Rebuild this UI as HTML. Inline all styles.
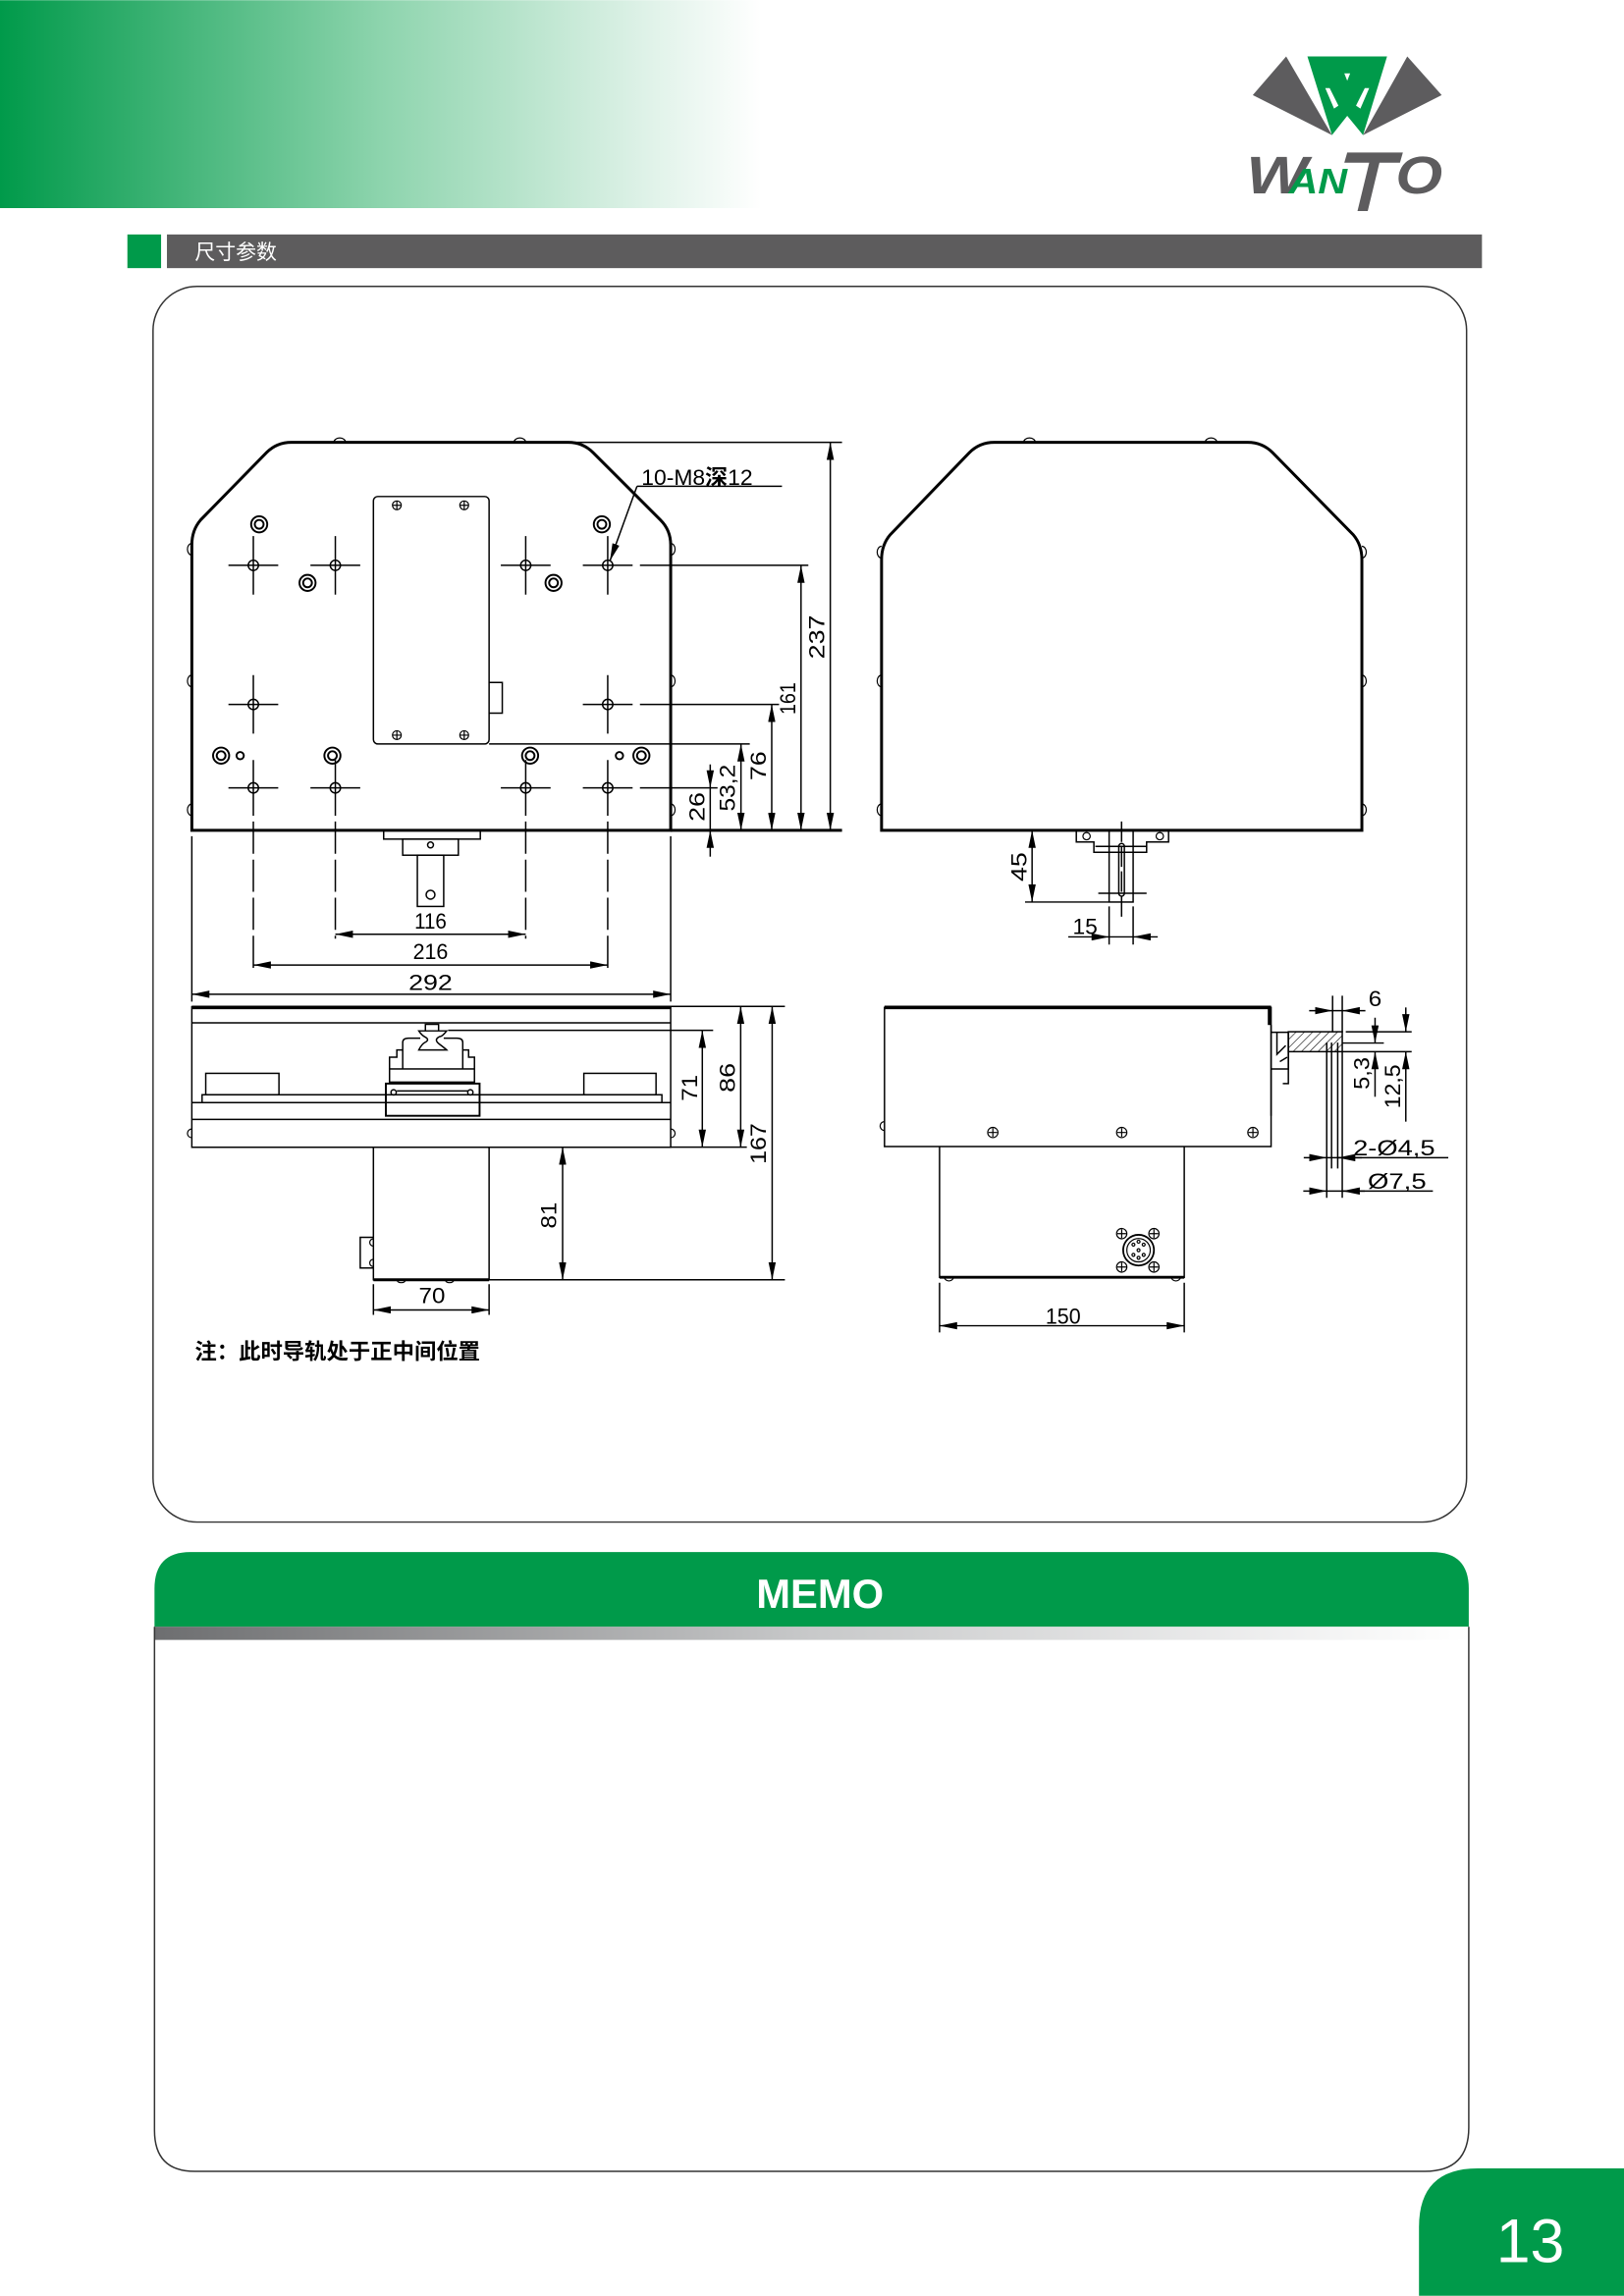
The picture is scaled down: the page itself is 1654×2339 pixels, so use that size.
<!DOCTYPE html>
<html><head><meta charset="utf-8"><style>
html,body{margin:0;padding:0;background:#fff}
svg{display:block}
</style></head><body>
<svg width="1654" height="2339" viewBox="0 0 1109 1568" xmlns="http://www.w3.org/2000/svg">
<defs>
<linearGradient id="hg" x1="0" x2="1" y1="0" y2="0">
<stop offset="0" stop-color="#009a4a"/><stop offset="0.15" stop-color="#2bab68"/><stop offset="0.5" stop-color="#8dd4ad"/><stop offset="0.85" stop-color="#dff2e8"/><stop offset="1" stop-color="#ffffff"/>
</linearGradient>
<linearGradient id="gg" x1="0" x2="1" y1="0" y2="0">
<stop offset="0" stop-color="#6d6e70"/><stop offset="0.5" stop-color="#c8c9ca"/><stop offset="1" stop-color="#ffffff"/>
</linearGradient>
<marker id="ar" viewBox="0 0 12 5" refX="12" refY="2.5" markerWidth="12" markerHeight="5" markerUnits="userSpaceOnUse" orient="auto-start-reverse"><path d="M0,0 L12,2.5 L0,5 z" fill="#000"/></marker>
<pattern id="hatch" width="4" height="4" patternUnits="userSpaceOnUse" patternTransform="rotate(45)"><line x1="0" y1="0" x2="0" y2="4" stroke="#000" stroke-width="0.8"/></pattern>
</defs>

<!-- header -->
<rect x="0" y="0" width="520" height="142" fill="url(#hg)"/>
<!-- logo -->
<polygon points="878.3,38.4 855.5,64.8 909.6,92.1" fill="#5d5c5e"/>
<polygon points="961,38.4 984.5,64.8 930.8,92.1" fill="#5d5c5e"/>
<polygon points="892.8,38.4 947.2,38.4 930.8,92.1 920,79 909.6,92.1" fill="#009a4a"/>
<polygon points="918,50 922,50 920,55" fill="#fff"/>
<polygon points="905,60 908,60 914,72 911,74" fill="#fff"/>
<polygon points="932,60 935,60 929,74 926,72" fill="#fff"/>
<text x="851" y="131.8" font-family="Liberation Sans, sans-serif" font-weight="bold" font-style="italic" font-size="36" fill="#5d5c5e" textLength="42" lengthAdjust="spacingAndGlyphs">W</text>
<text x="880" y="131.8" font-family="Liberation Sans, sans-serif" font-weight="bold" font-style="italic" font-size="24" fill="#009a4a" textLength="40" lengthAdjust="spacingAndGlyphs">AN</text>
<polygon points="920,104 958,104 956,111 942,111 934,144 927,144 935,111 918,111" fill="#5d5c5e"/>
<text x="953" y="131.8" font-family="Liberation Sans, sans-serif" font-weight="bold" font-style="italic" font-size="36" fill="#5d5c5e" textLength="32" lengthAdjust="spacingAndGlyphs">O</text>

<!-- section bar -->
<rect x="87" y="160" width="23" height="23" fill="#009a4a"/>
<rect x="114" y="160" width="898" height="23" fill="#5d5c5d"/>
<text x="133" y="177" font-family="Liberation Sans, 'Noto Sans CJK SC', sans-serif" font-size="14" fill="#fff">尺寸参数</text>

<!-- drawing box -->
<rect x="104.5" y="195.5" width="897" height="844" rx="30" fill="none" stroke="#333" stroke-width="1"/>

<g stroke="#000" fill="none" stroke-width="1">
<!-- FRONT VIEW -->
<path d="M131,567 L131,372 Q131,362 137,355 L182,309 Q189,302 199,302 L388,302 Q398,302 405,309 L451,355 Q458,362 458,372 L458,567 Z" stroke-width="2"/>
<!-- bumps -->
<g stroke-width="0.8">
<path d="M131,371 a3,4 0 0 0 0,8"/><path d="M131,461 a3,4 0 0 0 0,8"/><path d="M131,549 a3,4 0 0 0 0,8"/>
<path d="M458,371 a3,4 0 0 1 0,8"/><path d="M458,461 a3,4 0 0 1 0,8"/><path d="M458,549 a3,4 0 0 1 0,8"/>
<path d="M228,302 a4,3 0 0 1 8,0"/><path d="M351,302 a4,3 0 0 1 8,0"/>
</g>
<!-- holes -->
<g>
<circle cx="173" cy="386" r="3.5"/><path d="M156,386H190M173,366V406"/>
<circle cx="229" cy="386" r="3.5"/><path d="M212,386H246M229,366V406"/>
<circle cx="359" cy="386" r="3.5"/><path d="M342,386H376M359,366V406"/>
<circle cx="415" cy="386" r="3.5"/><path d="M398,386H432M415,366V406"/>
<circle cx="173" cy="481" r="3.5"/><path d="M156,481H190M173,461V501"/>
<circle cx="415" cy="481" r="3.5"/><path d="M398,481H432M415,461V501"/>
<circle cx="173" cy="538" r="3.5"/><path d="M156,538H190M173,519V557"/>
<circle cx="229" cy="538" r="3.5"/><path d="M212,538H246M229,519V557"/>
<circle cx="359" cy="538" r="3.5"/><path d="M342,538H376M359,519V557"/>
<circle cx="415" cy="538" r="3.5"/><path d="M398,538H432M415,519V557"/>
</g>
<path d="M173,561V662M415,561V662M229,561V641M359,561V641" stroke-dasharray="22 4"/>
<!-- double circles -->
<g stroke-width="1.3">
<circle cx="177" cy="358" r="5.5"/><circle cx="177" cy="358" r="3"/>
<circle cx="411" cy="358" r="5.5"/><circle cx="411" cy="358" r="3"/>
<circle cx="210" cy="398" r="5.5"/><circle cx="210" cy="398" r="3"/>
<circle cx="378" cy="398" r="5.5"/><circle cx="378" cy="398" r="3"/>
<circle cx="151" cy="516" r="5.5"/><circle cx="151" cy="516" r="3"/>
<circle cx="227" cy="516" r="5.5"/><circle cx="227" cy="516" r="3"/>
<circle cx="362" cy="516" r="5.5"/><circle cx="362" cy="516" r="3"/>
<circle cx="438" cy="516" r="5.5"/><circle cx="438" cy="516" r="3"/>
<circle cx="164" cy="516" r="2.5"/><circle cx="423" cy="516" r="2.5"/>
</g>
<!-- panel -->
<rect x="255" y="339" width="79" height="169" rx="3"/>
<g stroke-width="0.8">
<circle cx="271" cy="345" r="3"/><path d="M268,345h6M271,342v6"/>
<circle cx="317" cy="345" r="3"/><path d="M314,345h6M317,342v6"/>
<circle cx="271" cy="502" r="3"/><path d="M268,502h6M271,499v6"/>
<circle cx="317" cy="502" r="3"/><path d="M314,502h6M317,499v6"/>
</g>
<path d="M334,466H343V487H334"/>
<!-- bottom connector -->
<rect x="262" y="567" width="66" height="6"/>
<rect x="275" y="573" width="38" height="11"/>
<rect x="285" y="584" width="18" height="35"/>
<circle cx="294" cy="611" r="3"/><circle cx="294" cy="577" r="2"/>
<!-- bottom dims -->
<path d="M229,638H359" marker-start="url(#ar)" marker-end="url(#ar)"/>
<path d="M173,659H415" marker-start="url(#ar)" marker-end="url(#ar)"/>
<path d="M131,679H458" marker-start="url(#ar)" marker-end="url(#ar)"/>
<path d="M131,571V684M458,571V684"/>
<!-- right dims -->
<path d="M390,302H575"/>
<path d="M437,386H552"/>
<path d="M437,481H532"/>
<path d="M334,508H512"/>
<path d="M437,538H490"/>
<path d="M458,567H575" stroke-width="2"/>
<path d="M567,302V567" marker-start="url(#ar)" marker-end="url(#ar)"/>
<path d="M547,386V567" marker-start="url(#ar)" marker-end="url(#ar)"/>
<path d="M527,481V567" marker-start="url(#ar)" marker-end="url(#ar)"/>
<path d="M506,508V567" marker-start="url(#ar)" marker-end="url(#ar)"/>
<path d="M485,522V538" marker-end="url(#ar)"/>
<path d="M485,585V567" marker-end="url(#ar)"/>
<path d="M485,538V567"/>
<!-- leader -->
<path d="M435,332H534"/>
<path d="M435,332L416.5,383" marker-end="url(#ar)"/>

<!-- FRONT ELEVATION (bottom-left) -->
<rect x="131" y="687.5" width="327" height="96" />
<path d="M131,688H458" stroke-width="2.5"/>
<path d="M131,698.5H458M131,753H458M131,764.5H458"/>
<path d="M138,753V747.6H452V753"/>
<rect x="140.5" y="733" width="50" height="14.6"/>
<rect x="398.7" y="733" width="49.3" height="14.6"/>
<path d="M290.5,704V699.5H299.5V704"/>
<path d="M286,704H305Q302,708 300,708Q296,710 300,713Q304,716 305,717H286Q288,713 290,712Q294,710 290,708Q288,707 286,704Z"/>
<path d="M275,730V712Q275,709 279,709H287M303,709H312Q316,709 316,712V730"/>
<path d="M266,730V722H271V717H275M316,717H320V722H324V730"/>
<rect x="266" y="730" width="58" height="9"/>
<rect x="263.5" y="740" width="64" height="22" stroke-width="1.3"/>
<path d="M271,745H320"/>
<circle cx="268.8" cy="746" r="1.8"/><circle cx="321.2" cy="746" r="1.8"/>
<path d="M131,777a3,3 0 0 1 0,-6M458,771a3,3 0 0 1 0,6" stroke-width="0.8"/>
<!-- lower box -->
<path d="M255,783.4V874H334V783.4"/>
<path d="M255,874H334" stroke-width="2"/>
<path d="M255,845H246V866H255"/>
<path d="M255,846a2.5,2.5 0 0 0 0,5M255,860a2.5,2.5 0 0 0 0,5" stroke-width="0.8"/>
<path d="M271,874a3,2 0 0 0 6,0M304,874a3,2 0 0 0 6,0" stroke-width="0.8"/>
<!-- dims -->
<path d="M306,703.6H487"/>
<path d="M458,687.3H536M458,783.4H510M334,874H536"/>
<path d="M479.6,703.6V783.4" marker-start="url(#ar)" marker-end="url(#ar)"/>
<path d="M505.8,687.3V783.4" marker-start="url(#ar)" marker-end="url(#ar)"/>
<path d="M527.3,687.3V874" marker-start="url(#ar)" marker-end="url(#ar)"/>
<path d="M384.2,783.4V874" marker-start="url(#ar)" marker-end="url(#ar)"/>
<path d="M255,877V898M334,877V898"/>
<path d="M255,894.6H334" marker-start="url(#ar)" marker-end="url(#ar)"/>

<!-- RIGHT VIEW -->
<path d="M602,567 L602,382 Q602,372 608,365 L662,309 Q669,302 679,302 L852,302 Q862,302 869,309 L924,365 Q930,372 930,382 L930,567 Z" stroke-width="2"/>
<path d="M602,567H930" stroke-width="1"/>
<g stroke-width="0.8">
<path d="M602,373a3,4 0 0 0 0,8"/><path d="M602,461a3,4 0 0 0 0,8"/><path d="M602,549a3,4 0 0 0 0,8"/>
<path d="M930,373a3,4 0 0 1 0,8"/><path d="M930,461a3,4 0 0 1 0,8"/><path d="M930,549a3,4 0 0 1 0,8"/>
<path d="M699,302a4,3 0 0 1 8,0"/><path d="M823,302a4,3 0 0 1 8,0"/>
</g>
<path d="M735,567V575H747V582H783V575H798V567"/>
<circle cx="742" cy="571" r="2.5" stroke-width="0.8"/><circle cx="792" cy="571" r="2.5" stroke-width="0.8"/>
<rect x="757.4" y="567" width="16.4" height="49"/>
<path d="M765.9,561V626" stroke-dasharray="14 3"/>
<rect x="764" y="576" width="3.8" height="36" rx="1.9"/>
<path d="M748,578H783M750,610H783"/>
<path d="M700,616H757"/>
<path d="M704.8,567V616" marker-start="url(#ar)" marker-end="url(#ar)"/>
<path d="M757.4,619V645M773.8,619V645"/>
<path d="M729.5,639.8H757.4" marker-end="url(#ar)"/>
<path d="M790.6,639.8H773.8" marker-end="url(#ar)"/>
<path d="M757.4,639.8H773.8"/>

<!-- SIDE VIEW (bottom-right) -->
<rect x="604" y="688" width="264" height="95"/>
<path d="M604,688H868" stroke-width="2.5"/>
<path d="M867,688V700" stroke-width="2.5"/>
<path d="M604,772a3,3 0 0 1 0,-6" stroke-width="0.8"/>
<g stroke-width="0.8">
<circle cx="678" cy="773.4" r="3.5"/><path d="M675,773.4h6M678,770.4v6"/>
<circle cx="766" cy="773.4" r="3.5"/><path d="M763,773.4h6M766,770.4v6"/>
<circle cx="855.6" cy="773.4" r="3.5"/><path d="M852.6,773.4h6M855.6,770.4v6"/>
</g>
<path d="M641.6,783V872.3H808.7V783"/>
<path d="M641.6,872.3H808.7" stroke-width="2"/>
<path d="M645,872.3a3,2.5 0 0 0 6,0M800,872.3a3,2.5 0 0 0 6,0" stroke-width="0.8"/>
<g stroke-width="0.8">
<circle cx="766" cy="842.5" r="3.5"/><path d="M763,842.5h6M766,839.5v6"/>
<circle cx="788" cy="842.5" r="3.5"/><path d="M785,842.5h6M788,839.5v6"/>
<circle cx="766" cy="865.3" r="3.5"/><path d="M763,865.3h6M766,862.3v6"/>
<circle cx="788" cy="865.3" r="3.5"/><path d="M785,865.3h6M788,862.3v6"/>
<circle cx="777.5" cy="853.8" r="10.5" stroke-width="1.2"/>
<circle cx="777.5" cy="853.8" r="8"/>
<circle cx="774" cy="850" r="1"/><circle cx="781" cy="850" r="1"/><circle cx="777.5" cy="848" r="1"/><circle cx="774" cy="857" r="1"/><circle cx="781" cy="857" r="1"/><circle cx="777.5" cy="859" r="1"/><circle cx="777.5" cy="853.8" r="1"/>
</g>
<!-- flange -->
<path d="M868,700V762" />
<path d="M868,705H879.8V730H868"/>
<path d="M872,705V720L878,714M874,725L879,722"/>
<path d="M879.8,705V740H876"/>
<rect x="879.8" y="704.6" width="36.8" height="13.6" fill="url(#hatch)"/>
<path d="M906,712V818M909.3,712V798M913.5,712V798M916.6,718V818"/>
<!-- dims -->
<path d="M910,680V705M916.6,680V705"/>
<path d="M894,690.2H910" marker-end="url(#ar)"/>
<path d="M932.4,690.2H916.6" marker-end="url(#ar)"/>
<path d="M910,690.2H916.6"/>
<path d="M919,704.6H964M916.6,712.3H945M916.6,718.2H964"/>
<path d="M939,695V712.3" marker-end="url(#ar)"/>
<path d="M939,749V718.2" marker-end="url(#ar)"/>
<path d="M960,688V704.6" marker-end="url(#ar)"/>
<path d="M960,766V718.2" marker-end="url(#ar)"/>
<path d="M890.3,790.6H906" marker-end="url(#ar)"/>
<path d="M930,790.6H913.5" marker-end="url(#ar)"/>
<path d="M906,790.6H989"/>
<path d="M890,813.4H906" marker-end="url(#ar)"/>
<path d="M932,813.4H916.6" marker-end="url(#ar)"/>
<path d="M906,813.4H978.5"/>
<path d="M641.6,876V910M808.7,876V910"/>
<path d="M641.6,905.4H808.7" marker-start="url(#ar)" marker-end="url(#ar)"/>
</g>

<!-- dimension text -->
<g font-family="Liberation Sans, 'Noto Sans CJK SC', sans-serif" font-size="15" fill="#000" text-anchor="middle">
<text x="294" y="634" textLength="22" lengthAdjust="spacingAndGlyphs">116</text>
<text x="294" y="655" textLength="24" lengthAdjust="spacingAndGlyphs">216</text>
<text x="294" y="676" textLength="30" lengthAdjust="spacingAndGlyphs">292</text>
<text transform="translate(563,435) rotate(-90)" textLength="30" lengthAdjust="spacingAndGlyphs">237</text>
<text transform="translate(543,477) rotate(-90)" textLength="22" lengthAdjust="spacingAndGlyphs">161</text>
<text transform="translate(523,523) rotate(-90)" textLength="20" lengthAdjust="spacingAndGlyphs">76</text>
<text transform="translate(502,538) rotate(-90)" textLength="32" lengthAdjust="spacingAndGlyphs">53,2</text>
<text transform="translate(481,551) rotate(-90)" textLength="20" lengthAdjust="spacingAndGlyphs">26</text>
<text x="438" y="331" text-anchor="start" textLength="76" lengthAdjust="spacingAndGlyphs">10-M8<tspan font-weight="bold">深</tspan>12</text>
<text transform="translate(476,743) rotate(-90)" textLength="18" lengthAdjust="spacingAndGlyphs">71</text>
<text transform="translate(502,736) rotate(-90)" textLength="20" lengthAdjust="spacingAndGlyphs">86</text>
<text transform="translate(523,781) rotate(-90)" textLength="28" lengthAdjust="spacingAndGlyphs">167</text>
<text transform="translate(380,830) rotate(-90)" textLength="18" lengthAdjust="spacingAndGlyphs">81</text>
<text x="295" y="890" textLength="18" lengthAdjust="spacingAndGlyphs">70</text>
<text transform="translate(701,592) rotate(-90)" textLength="20" lengthAdjust="spacingAndGlyphs">45</text>
<text x="741" y="638" textLength="17" lengthAdjust="spacingAndGlyphs">15</text>
<text x="939" y="687" textLength="9" lengthAdjust="spacingAndGlyphs">6</text>
<text transform="translate(935,733) rotate(-90)" textLength="22" lengthAdjust="spacingAndGlyphs">5,3</text>
<text transform="translate(956,742) rotate(-90)" textLength="30" lengthAdjust="spacingAndGlyphs">12,5</text>
<text x="952" y="789" textLength="56" lengthAdjust="spacingAndGlyphs">2-Ø4,5</text>
<text x="954" y="812" textLength="40" lengthAdjust="spacingAndGlyphs">Ø7,5</text>
<text x="726" y="904" textLength="24" lengthAdjust="spacingAndGlyphs">150</text>
</g>
<text x="133" y="928" font-family="Liberation Sans, 'Noto Sans CJK SC', sans-serif" font-size="15" font-weight="bold" fill="#000">注：此时导轨处于正中间位置</text>

<!-- MEMO -->
<path d="M105.5,1111 V1085 Q105.5,1060 130,1060 H978 Q1003,1060 1003,1085 V1111 Z" fill="#009a4a"/>
<rect x="105.5" y="1111" width="897.5" height="9" fill="url(#gg)"/>
<path d="M105.5,1111 V1455 Q105.5,1483 133,1483 H973 Q1003,1483 1003,1453 V1111" fill="none" stroke="#333" stroke-width="1"/>
<text x="560" y="1098" font-family="Liberation Sans, sans-serif" font-weight="bold" font-size="28" fill="#fff" text-anchor="middle">MEMO</text>

<!-- page number -->
<path d="M969,1568 V1521 Q969,1481 1009,1481 H1109 V1568 Z" fill="#009a4a"/>
<text x="1045" y="1545" font-family="Liberation Sans, sans-serif" font-size="42" fill="#fff" text-anchor="middle">13</text>
</svg>
</body></html>
